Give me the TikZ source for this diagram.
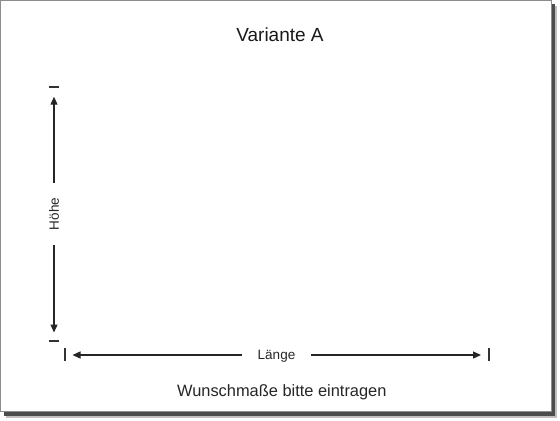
\documentclass[tikz,border=0pt]{standalone}
\usepackage{fontspec}
\setmainfont{Liberation Sans}
\usetikzlibrary{arrows.meta}

\begin{document}
\begin{tikzpicture}[x=1bp,y=-1bp,
  dim/.style={line width=1.2bp, draw=black!85, -{Triangle[length=8bp,width=7bp]}},
  tick/.style={line width=1.7bp, draw=black!80},
  lbl/.style={font=\fontsize{13.5bp}{15bp}\selectfont, text=black!85, inner ysep=0pt, text height=9.7bp, text depth=0pt}]
  \useasboundingbox (0,0) rectangle (560,420);
  % page and its shadow
  \fill[black!25] (5.5,5.5) rectangle (556.5,417.5);
  \fill[black!70] (4,4) rectangle (555,416);
  \filldraw[fill=white, draw=black!45, line width=0.6bp] (0.5,0.5) rectangle (551,411.5);

  \coordinate (h1) at (54,96.7);
  \coordinate (h2) at (54,332.5);
  \coordinate (l1) at (72.5,355);
  \coordinate (l2) at (481,355);

  \node[font=\fontsize{19bp}{22bp}\selectfont, text=black!90, anchor=base] (title) at (280,41.8) {Variante A};
  \node[lbl, rotate=90, inner xsep=14.5bp] (hoehe) at (54,214) {Höhe};
  \node[lbl, inner xsep=16bp] (laenge) at (276.5,355) {Länge};
  \node[font=\fontsize{16.4bp}{19bp}\selectfont, text=black!85, anchor=base] (note) at (281.8,396.6) {Wunschmaße bitte eintragen};

  \draw[dim] (hoehe.east) -- (h1);
  \draw[dim] (hoehe.west) -- (h2);
  \draw[dim] (laenge.west) -- (l1);
  \draw[dim] (laenge.east) -- (l2);

  \draw[tick] (48.5,87.3) -- (59.2,87.3);
  \draw[tick] (48.5,340.7) -- (59.2,340.7);
  \draw[tick] (65.3,348) -- (65.3,361);
  \draw[tick] (488.9,348) -- (488.9,361);
\end{tikzpicture}
\end{document}
